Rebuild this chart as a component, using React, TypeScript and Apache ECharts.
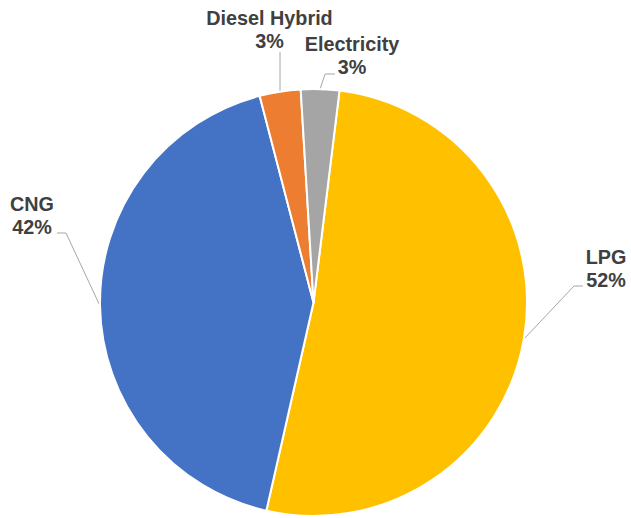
import React, { useEffect, useRef } from "react";
import * as echarts from "echarts";

const categories = ["LPG", "CNG", "Diesel Hybrid", "Electricity"];
const values = [51.6, 42.4, 3.1, 2.9];
const colors = ["#FFC000", "#4472C4", "#ED7D31", "#A5A5A5"];

const CX = 313.5;
const CY = 302.5;
const R = 213.5;
const START = 83; // echarts startAngle (90 = top)

// label anchor positions and leader-line bends (layout only)
const labelPos = [
  { x: 606, y: 268, bend: [[574, 286], [583, 286]] },
  { x: 32, y: 215, bend: [[66, 233], [57, 233]] },
  { x: 269.5, y: 29, bend: null },
  { x: 352, y: 55.5, bend: [[325, 74], [335, 74]] },
];

export default function App() {
  const ref = useRef<HTMLDivElement>(null);
  useEffect(() => {
    document.body.style.margin = "0";
    const chart = echarts.init(ref.current!, null, { renderer: "svg" });
    const total = values.reduce((a, b) => a + b, 0);
    const mids: number[] = [];
    let acc = 90 - START;
    values.forEach((v) => {
      const span = (v / total) * 360;
      mids.push(acc + span / 2);
      acc += span;
    });
    chart.setOption({
      animation: false,
      backgroundColor: "#ffffff",
      series: [
        {
          type: "pie",
          center: [CX, CY],
          radius: R,
          startAngle: START,
          clockwise: true,
          avoidLabelOverlap: false,
          itemStyle: { borderColor: "#ffffff", borderWidth: 2 },
          label: {
            show: true,
            position: "outside",
            formatter: (p: any) => `${p.name}\n${Math.round(p.percent)}%`,
            fontFamily: "Liberation Sans, Arial, sans-serif",
            fontWeight: "bold",
            fontSize: 19.8,
            lineHeight: 23,
            color: "#404040",
            align: "center",
          },
          labelLine: {
            show: true,
            length: 20,
            length2: 10,
            lineStyle: { color: "#A6A6A6", width: 1 },
          },
          labelLayout: (params: any) => {
            const i = params.dataIndex;
            const pos = labelPos[i];
            const a = (mids[i] * Math.PI) / 180;
            const ex = CX + R * Math.sin(a);
            const ey = CY - R * Math.cos(a);
            const pts = pos.bend
              ? [[ex, ey], pos.bend[0], pos.bend[1]]
              : [[ex, ey], [ex, 52], [ex, 52]];
            return {
              x: pos.x,
              y: pos.y,
              align: "center",
              verticalAlign: "middle",
              labelLinePoints: pts,
            };
          },
          data: categories.map((c, i) => ({
            name: c,
            value: values[i],
            itemStyle: { color: colors[i] },
          })),
        },
      ],
    });
    return () => chart.dispose();
  }, []);
  return <div ref={ref} style={{ width: 631, height: 518 }} />;
}
